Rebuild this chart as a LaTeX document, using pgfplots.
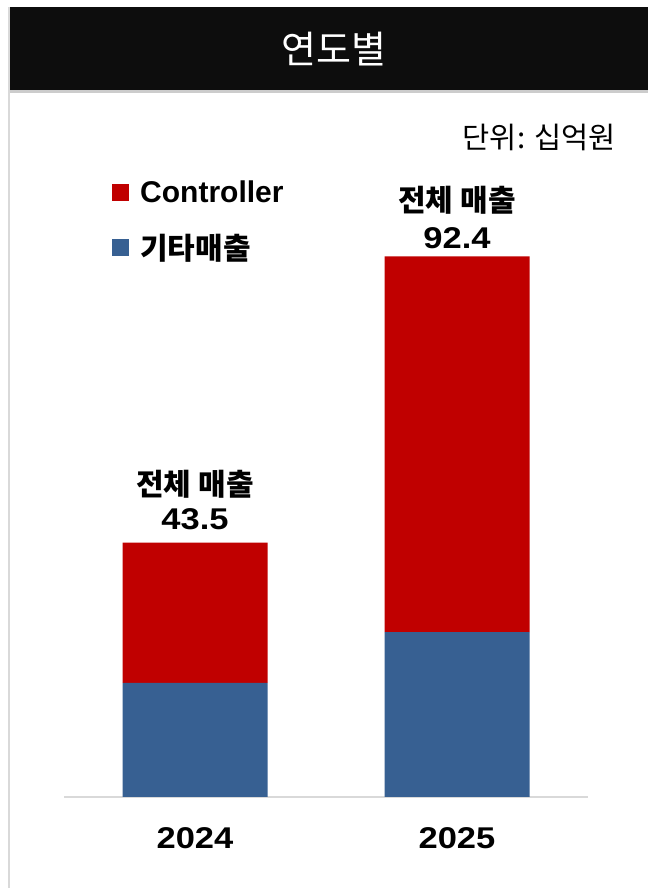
\documentclass[border=0pt]{standalone}
\usepackage{fontspec}
\setmainfont{Liberation Sans}
\newfontfamily\kr{Noto Sans CJK KR}
\newfontfamily\num[FakeStretch=1.15]{Liberation Sans}
\usepackage{pgfplots}
\pgfplotsset{compat=1.18}
\definecolor{barred}{HTML}{C00000}
\definecolor{barblue}{HTML}{376092}
\definecolor{hdr}{HTML}{0D0D0D}
\definecolor{axgray}{HTML}{D9D9D9}

% year, 기타매출, Controller (십억원)
\pgfplotstableread{
x other controller
0 19.5 24.0
1 28.2 64.2
}\sales

\begin{document}
\begin{tikzpicture}[x=1pt,y=1pt]
\fill[white] (0,0) rectangle (648,888);
\fill[axgray] (8,0) rectangle (10,881);
\fill[black!20] (10,795) rectangle (648,798);
\fill[hdr] (10,798) rectangle (648,881);
\node[text=white, font=\kr\fontsize{38}{44}\selectfont] at (334,839) {연도별};
\node[anchor=east, font=\kr\fontsize{29.5}{34}\selectfont] at (619,751) {단위: 십억원};

\begin{axis}[
  at={(64pt,91pt)}, anchor=south west,
  scale only axis, width=524pt, height=585pt,
  xmin=-0.5, xmax=1.5, ymin=0, ymax=100,
  ybar stacked, bar width=145pt,
  axis x line*=bottom, axis y line=none,
  x axis line style={draw=axgray, line width=1.5pt, -},
  xtick={0,1}, xticklabels={2024,2025}, major tick length=0pt,
  xticklabel style={font=\num\bfseries\fontsize{30}{34}\selectfont, anchor=base, yshift=-51pt},
  clip=false,
  reverse legend,
  legend cell align=left,
  legend style={at={(0.0916,1.0564)}, anchor=north west, draw=none, fill=none,
    inner sep=0pt, row sep=25.5pt,
    /tikz/every odd column/.append style={column sep=9pt},
    font=\bfseries\fontsize{30}{36}\selectfont},
  legend image code/.code={\fill[#1] (0pt,-8.5pt) rectangle (17pt,8.5pt);},
]
\addplot[fill=barblue, draw=none] table[x=x, y=other]{\sales};
\addplot[fill=barred, draw=none] table[x=x, y=controller]{\sales};
\legend{{\kr\bfseries 기타매출}, Controller}

\node[anchor=base, yshift=13pt, font=\num\bfseries\fontsize{30}{34}\selectfont] at (axis cs:0,43.5) {43.5};
\node[anchor=base, yshift=47pt, font=\kr\bfseries\fontsize{30}{34}\selectfont] at (axis cs:0,43.5) {전체 매출};
\node[anchor=base, yshift=8pt, font=\num\bfseries\fontsize{30}{34}\selectfont] at (axis cs:1,92.4) {92.4};
\node[anchor=base, yshift=45pt, font=\kr\bfseries\fontsize{30}{34}\selectfont] at (axis cs:1,92.4) {전체 매출};
\end{axis}
\end{tikzpicture}
\end{document}
